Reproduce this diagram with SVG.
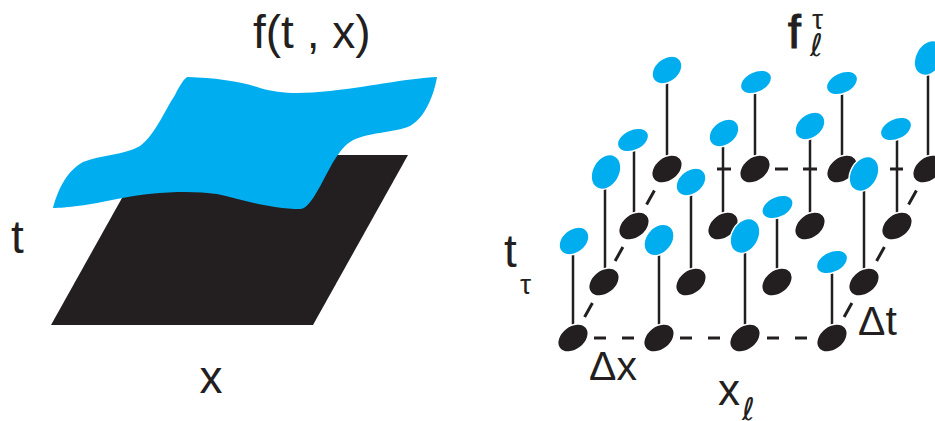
<svg xmlns="http://www.w3.org/2000/svg" width="935" height="421" viewBox="0 0 935 421">
<style>
text{font-family:"Liberation Sans","DejaVu Sans",sans-serif;fill:#231f20}
.big{font-size:46px}
.mid{font-size:41px}
.sub{font-size:28px}
.ell{font-family:"DejaVu Sans",sans-serif;font-style:italic;font-size:31px}
.stem{stroke:#231f20;stroke-width:2.5}
.dash{stroke:#231f20;stroke-width:3;fill:none}
</style>
<defs>
<ellipse id="bk" rx="17" ry="12" transform="rotate(-38)" fill="#231f20" stroke="#fff" stroke-width="1.5"/>
<ellipse id="bn" rx="16.5" ry="12" transform="rotate(-38)" fill="#00aeef" stroke="#fff" stroke-width="1.5"/>
<ellipse id="bt" rx="18.5" ry="13.5" transform="rotate(-60)" fill="#00aeef" stroke="#fff" stroke-width="1.5"/>
<ellipse id="bm" rx="17.5" ry="13" transform="rotate(-50)" fill="#00aeef" stroke="#fff" stroke-width="1.5"/>
<ellipse id="bf" rx="16.5" ry="10.5" transform="rotate(-25)" fill="#00aeef" stroke="#fff" stroke-width="1.5"/>
</defs>

<g id="plane"><path d="M51,325 L313,325 L408,155 L146,155 Z" fill="#231f20"/></g>
<g id="surface"><path d="M188,77 C215,78 240,81 260,88 C280,94 300,94 330,91 C360,88 410,78 437,77 C434,95 425,118 410,126 C395,133 365,132 350,142 C335,152 325,180 315,195 C310,203 305,209 300,209 C270,209 240,199 217,194 C190,190 150,192 117,199 C90,205 65,208 53,208 C57,193 65,172 83,162 C100,155 125,155 140,146 C155,135 165,110 175,95 C180,85 185,77 188,77 Z" fill="#00aeef"/></g>

<g id="labels-left">
<text class="big" x="253" y="48">f(t , x)</text>
<text class="big" x="11" y="253">t</text>
<text class="big" x="211" y="393" text-anchor="middle">x</text>
</g>

<g id="connectors" class="dash">
<path d="M594,338h12M622,338h12M680,338h12M708,338h12M767,338h12M795,338h12"/>
<path d="M717,169h14M775,169h13M803,169h14M862,169h12M890,169h13"/>
<path d="M584.6,317 l7.8,-14 M615.1,261 l7.8,-14 M646.6,204.5 l7.8,-14"/>
<path d="M844.1,317 l7.8,-14 M876.6,261 l7.8,-14 M908.6,204.5 l7.8,-14"/>
</g>

<g id="p-3-0"><line class="stem" x1="667" y1="169" x2="667" y2="70"/><use href="#bk" x="667" y="169"/><use href="#bn" x="667" y="70"/></g>
<g id="p-3-1"><line class="stem" x1="755" y1="169" x2="755" y2="82"/><use href="#bk" x="755" y="169"/><use href="#bf" x="756" y="82"/></g>
<g id="p-3-2"><line class="stem" x1="842" y1="169" x2="842" y2="83"/><use href="#bk" x="842" y="169"/><use href="#bf" x="842" y="83"/></g>
<g id="p-3-3"><line class="stem" x1="928" y1="169" x2="928" y2="58"/><use href="#bk" x="928" y="169"/><use href="#bt" x="929" y="58"/></g>

<g id="p-2-0"><line class="stem" x1="634" y1="226" x2="634" y2="140"/><use href="#bk" x="634" y="226"/><use href="#bf" x="633" y="140"/></g>
<g id="p-2-1"><line class="stem" x1="723" y1="226" x2="723" y2="133"/><use href="#bk" x="723" y="226"/><use href="#bn" x="724" y="133"/></g>
<g id="p-2-2"><line class="stem" x1="810" y1="226" x2="810" y2="126"/><use href="#bk" x="810" y="226"/><use href="#bn" x="810" y="126"/></g>
<g id="p-2-3"><line class="stem" x1="897" y1="226" x2="897" y2="129"/><use href="#bk" x="897" y="226"/><use href="#bf" x="896" y="129"/></g>

<g id="p-1-0"><line class="stem" x1="605" y1="282" x2="605" y2="172"/><use href="#bk" x="604" y="282"/><use href="#bt" x="606" y="172"/></g>
<g id="p-1-1"><line class="stem" x1="691" y1="282" x2="691" y2="182"/><use href="#bk" x="691" y="282"/><use href="#bn" x="691" y="182"/></g>
<g id="p-1-2"><line class="stem" x1="777" y1="282" x2="777" y2="207"/><use href="#bk" x="777" y="282"/><use href="#bf" x="777.5" y="207"/></g>
<g id="p-1-3"><line class="stem" x1="864" y1="282" x2="864" y2="174"/><use href="#bk" x="864" y="282"/><use href="#bt" x="864" y="174"/></g>

<g id="p-0-0"><line class="stem" x1="573" y1="338" x2="573" y2="241"/><use href="#bk" x="573" y="338"/><use href="#bn" x="574" y="241"/></g>
<g id="p-0-1"><line class="stem" x1="659" y1="338" x2="659" y2="240"/><use href="#bk" x="659" y="338"/><use href="#bm" x="659" y="240"/></g>
<g id="p-0-2"><line class="stem" x1="745" y1="338" x2="745" y2="236"/><use href="#bk" x="745" y="338"/><use href="#bt" x="745" y="236"/></g>
<g id="p-0-3"><line class="stem" x1="832" y1="338" x2="832" y2="262"/><use href="#bk" x="832" y="338"/><use href="#bf" x="832" y="262"/></g>

<g id="labels-right">
<text class="big" x="788" y="48" stroke="#231f20" stroke-width="1.2">f</text>
<text class="sub" x="812" y="29">τ</text>
<text class="ell" x="810" y="56">ℓ</text>
<text class="big" x="504" y="267">t</text>
<text class="sub" x="520" y="294">τ</text>
<text class="mid" x="589" y="380">Δx</text>
<text x="718" y="405" font-size="44">x</text>
<text class="ell" x="742" y="420">ℓ</text>
<text class="mid" x="858" y="335">Δt</text>
</g>
</svg>
